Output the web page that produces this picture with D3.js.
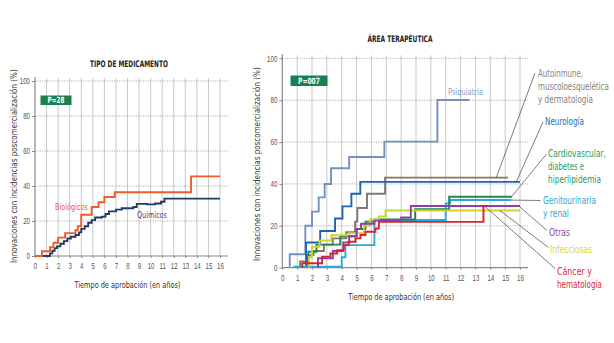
<!DOCTYPE html>
<html>
<head>
<meta charset="utf-8">
<script src="https://d3js.org/d3.v7.min.js"></script>
<style>
  body { margin: 0; background: #fff; }
  svg { font-family: "DejaVu Sans", sans-serif; font-stretch: condensed; }
  .tick text { fill: #555; font-size: 8.5px; }
  .tick line { stroke: #888; }
  .domain { display: none; }
</style>
</head>
<body>
<svg id="chart" width="614" height="343"></svg>
<script>
// ---- data (years, % with post-marketing incidents) ----
var xTicks = [0, 1, 2, 3, 4, 5, 6, 7, 8, 9, 10, 11, 12, 13, 14, 15, 16];
var yTicks = [0, 20, 40, 60, 80, 100];

// tipo de medicamento
var biologicos = [[0,0],[0.6,2.7],[1.3,5],[1.6,7.6],[2.0,10.5],[2.6,13.1],[3.5,14.7],[3.7,17],[4.0,23.6],[4.9,28],[5.5,30.7],[6.0,33.7],[6.9,36.4],[13.5,45.5],[16,45.5]];
var quimicos = [[0,0],[1.15,0],[1.3,1.5],[1.5,3],[1.7,4.5],[1.9,5.5],[2.2,7],[2.5,8.5],[2.8,10],[3.1,11],[3.5,12],[3.8,13.5],[4.0,15.5],[4.3,17],[4.6,19],[4.9,20.5],[5.2,22],[5.8,22.5],[6.1,24],[6.4,25.5],[7.0,26.5],[7.5,27.3],[8.5,28],[8.8,29.8],[9.7,29.5],[10.4,30],[10.9,31],[11.2,32.8],[16,32.8]];

// area terapeutica
var psiquiatria = [[0.5,0],[0.5,6.4],[1.55,20],[2.0,26.8],[2.45,33.6],[2.85,40],[3.28,47.5],[4.5,52.9],[6.87,60.2],[10.44,80.1],[12.6,80.1]];
var autoinmune = [[1.2,0],[1.2,3],[1.7,6],[2.1,8],[2.8,11],[3.4,14],[4.3,17],[4.9,22],[5.05,28.5],[5.7,35.3],[6.92,43],[15.2,43]];
var neurologia = [[1.6,0],[1.6,12],[2.55,17.5],[3.55,23.5],[4.05,29.3],[4.65,35.3],[5.25,41],[16,41]];
var cardiovascular = [[1.75,0],[1.75,7.6],[2.3,11],[3.9,15],[5.0,18.5],[5.6,22],[6.2,23],[8.94,27.9],[11.23,33.9],[15.45,33.9]];
var genitourinaria = [[0.75,0.5],[4.0,5],[4.25,10.8],[6.2,22.8],[11.0,30.7],[11.3,32.3],[15.4,32.3]];
var otras = [[2.4,0],[2.4,4.5],[3.4,8],[4.1,12],[4.5,15],[5.0,18.5],[5.3,21],[6.2,22.5],[8.0,24],[8.65,29.5],[16,29.5]];
var infecciosas = [[1.8,0],[1.8,5],[2.0,10],[2.5,13],[3.3,15.5],[4.5,16.5],[5.5,20],[5.9,23],[6.5,24.5],[6.95,27.3],[16,27.3]];
var cancer = [[1.34,0],[1.34,2.1],[2.68,5.3],[3.24,6.8],[3.69,8.4],[4.14,10.8],[4.47,12.4],[4.92,14],[5.26,15.6],[5.6,17.2],[6.27,18.7],[6.5,21.9],[13.54,21.9],[13.54,29.5],[13.7,29.5]];

var svg = d3.select("#chart");

// narrow text: the original uses a condensed face, so scale each text
// horizontally to the width it has there
function fit(sel, x, y, w, rot) {
    var L = sel.node().getComputedTextLength();
    sel.attr("transform", "translate(" + x + "," + y + ")" + (rot ? " rotate(" + rot + ")" : "") +
        " scale(" + (w / L) + ",1)");
    return sel;
}
function narrow(sel, k) {
    sel.each(function() {
        var t = d3.select(this);
        t.attr("textLength", this.getComputedTextLength() * k).attr("lengthAdjust", "spacingAndGlyphs");
    });
}

function panel(opt) {
    var x = d3.scaleLinear().domain([0, 16]).range(opt.xr),
        y = d3.scaleLinear().domain([0, 100]).range(opt.yr);
    var g = svg.append("g");

    // vertical grid
    g.selectAll(".vg").data(xTicks.slice(1)).enter().append("line")
        .attr("x1", d => x(d)).attr("x2", d => x(d))
        .attr("y1", y(0)).attr("y2", y(100) - 3)
        .attr("stroke", "#c9c9c9").attr("stroke-width", 1);
    // horizontal dotted grid
    g.selectAll(".hg").data(yTicks.slice(1)).enter().append("line")
        .attr("x1", x(0)).attr("x2", x(16) + 8)
        .attr("y1", d => y(d)).attr("y2", d => y(d))
        .attr("stroke", "#9a9a9a").attr("stroke-width", 0.8)
        .attr("stroke-dasharray", "1.2,1.2");

    // axes
    var xa = g.append("g").attr("transform", "translate(0," + y(0) + ")")
        .call(d3.axisBottom(x).tickValues(xTicks).tickSize(2).tickSizeOuter(0).tickPadding(5));
    var ya = g.append("g").attr("transform", "translate(" + x(0) + ",0)")
        .call(d3.axisLeft(y).tickValues(yTicks).tickSize(3).tickSizeOuter(0).tickPadding(2));
    narrow(xa.selectAll(".tick text"), 0.72);
    narrow(ya.selectAll(".tick text"), 0.72);
    g.append("line").attr("x1", x(0)).attr("x2", x(16) + 8)
        .attr("y1", y(0)).attr("y2", y(0)).attr("stroke", "#888").attr("stroke-width", 1.2);
    g.append("line").attr("x1", x(0)).attr("x2", x(0))
        .attr("y1", y(0)).attr("y2", y(100) - 4).attr("stroke", "#888").attr("stroke-width", 1.2);

    // titles
    fit(g.append("text").attr("font-size", 9).attr("font-weight", "bold")
        .attr("fill", "#222").text(opt.title), opt.titleX - opt.titleW / 2, opt.titleY, opt.titleW);
    fit(g.append("text").attr("font-size", 9.5).attr("fill", "#333")
        .text("Innovaciones con incidencias poscomercialización (%)"), opt.ylabX, opt.ylabY + 97, 194, -90);
    fit(g.append("text").attr("font-size", 9.5).attr("fill", "#333")
        .text("Tiempo de aprobación (en años)"), (x(0) + x(16)) / 2 - 53, y(0) + opt.xlabDy, 106);

    // badge
    g.append("rect").attr("x", opt.badge[0]).attr("y", opt.badge[1])
        .attr("width", opt.badge[2]).attr("height", opt.badge[3]).attr("fill", "#17804f");
    fit(g.append("text").attr("font-size", 8.5).attr("font-weight", "bold")
        .attr("fill", "#fff").text(opt.p),
        opt.badge[0] + (opt.badge[2] - opt.pw) / 2, opt.badge[1] + opt.badge[3] - 1.8, opt.pw);

    var line = d3.line().x(d => x(d[0])).y(d => y(d[1])).curve(d3.curveStepAfter);
    g.selectAll(".series").data(opt.series).enter().append("path")
        .attr("d", d => line(d.values))
        .attr("fill", "none").attr("stroke", d => d.color).attr("stroke-width", 1.9);

    return { g: g, x: x, y: y };
}

// ---- left panel ----
var left = panel({
    xr: [35, 220], yr: [256, 81],
    title: "TIPO DE MEDICAMENTO", titleX: 129, titleY: 67, titleW: 78,
    ylabX: 17, ylabY: 166, xlabDy: 32,
    badge: [40.5, 95.5, 31, 9.5], p: "P=28", pw: 17,
    series: [
        { color: "#1f3c66", values: quimicos },
        { color: "#f15a29", values: biologicos }
    ]
});
fit(left.g.append("text").attr("font-size", 9.5).attr("fill", "#f15a29").text("Biológicos"), 55, 209.5, 33);
fit(left.g.append("text").attr("font-size", 9.5).attr("fill", "#2d4d7c").text("Químicos"), 137, 218, 30);

// ---- right panel ----
var rightSeries = [
    { name: "psiquiatria", color: "#7092bd", values: psiquiatria },
    { name: "autoinmune", color: "#847571", values: autoinmune },
    { name: "neurologia", color: "#1f63b3", values: neurologia },
    { name: "genitourinaria", color: "#2aaad9", values: genitourinaria },
    { name: "cardiovascular", color: "#1c8a52", values: cardiovascular },
    { name: "infecciosas", color: "#cdd32a", values: infecciosas },
    { name: "otras", color: "#8b3fa9", values: otras },
    { name: "cancer", color: "#d9232c", values: cancer }
];
var right = panel({
    xr: [282.3, 520], yr: [267.7, 58.3],
    title: "ÁREA TERAPÉUTICA", titleX: 400, titleY: 42, titleW: 65,
    ylabX: 260, ylabY: 164, xlabDy: 32,
    badge: [290.5, 75.5, 37, 10.5], p: "P=007", pw: 22,
    series: rightSeries
});

// labels with leader lines: anchor in data coords, label in pixels
var labels = [
    { lines: ["Autoinmune,", "muscoloesquelética", "y dermatología"], widths: [45, 71, 55], color: "#8a7f7c", at: [14.4, 43], tx: 538, ty: 76.5, end: [535, 73] },
    { lines: ["Neurología"], widths: [39], color: "#2a68bd", at: [15.75, 41], tx: 545, ty: 125, end: [543, 122] },
    { lines: ["Cardiovascular,", "diabetes e", "hiperlipidemia"], widths: [58, 36, 53], color: "#2a9a5c", at: [15.45, 34], tx: 548, ty: 156.5, end: [546.5, 154] },
    { lines: ["Genitourinaria", "y renal"], widths: [53, 26], color: "#2ba8d8", at: [15.4, 32.3], tx: 543, ty: 203.5, end: [540.5, 200.5] },
    { lines: ["Otras"], widths: [21], color: "#8d45aa", at: [16, 29], tx: 549, ty: 236, end: [547, 230.5] },
    { lines: ["Infecciosas"], widths: [42], color: "#d8d63a", at: [14.65, 27.3], tx: 550, ty: 252.5, end: [548.5, 247.5] },
    { lines: ["Cáncer y", "hematología"], widths: [35, 45], color: "#d82a35", at: [13.65, 29.2], tx: 557, ty: 275, end: [555, 268.5] }
];

right.g.selectAll(".leader").data(labels).enter().append("line")
    .attr("x1", d => right.x(d.at[0])).attr("y1", d => right.y(d.at[1]))
    .attr("x2", d => d.end[0]).attr("y2", d => d.end[1])
    .attr("stroke", "#444").attr("stroke-width", 0.7);

labels.forEach(function(l) {
    l.lines.forEach(function(s, i) {
        fit(right.g.append("text").attr("font-size", 10.5).attr("fill", l.color).text(s),
            l.tx, l.ty + i * 13.3, l.widths[i]);
    });
});

fit(right.g.append("text").attr("font-size", 9.5).attr("fill", "#7b9dc8").text("Psiquiatría"), 448, 95, 35);
</script>
</body>
</html>
